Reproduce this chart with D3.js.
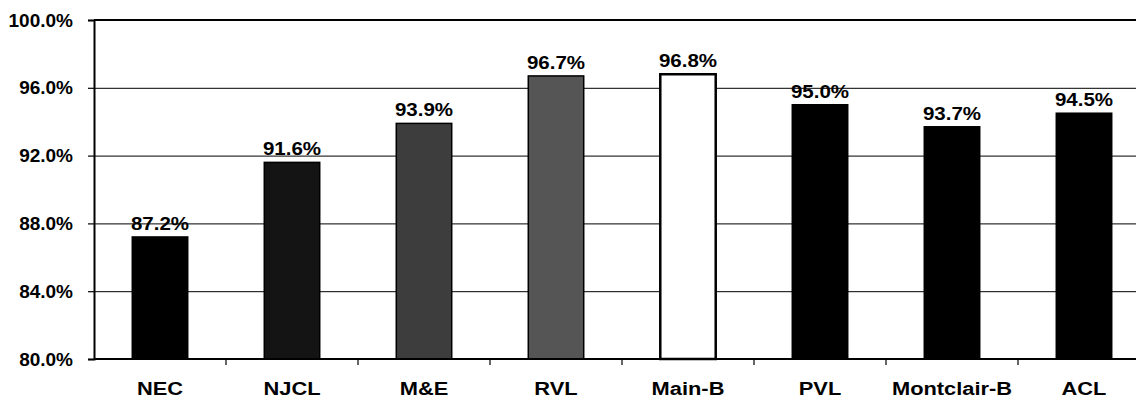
<!DOCTYPE html>
<html>
<head>
<meta charset="utf-8">
<script src="https://cdn.jsdelivr.net/npm/d3@7"></script>
<style>
  body { margin: 0; background: #fff; }
  text { font-family: Arial, "Liberation Sans", sans-serif; font-weight: bold; fill: #000; }
</style>
</head>
<body>
<div id="chart"></div>
<script>
// Data
const categories = ["NEC", "NJCL", "M&E", "RVL", "Main-B", "PVL", "Montclair-B", "ACL"];
const values = [87.2, 91.6, 93.9, 96.7, 96.8, 95.0, 93.7, 94.5];
const barFills = ["#000", "#141414", "#3d3d3d", "#555", "#fff", "#000", "#000", "#000"];
const yTicks = [80, 84, 88, 92, 96, 100];

const margin = { top: 20, right: -14, bottom: 41, left: 94 };
const W = 1136, H = 400;
const width = W - margin.left - margin.right;   // plot runs past the right edge
const height = H - margin.top - margin.bottom;

const svg = d3.select("#chart").append("svg")
  .attr("width", W)
  .attr("height", H)
  .append("g")
  .attr("transform", `translate(${margin.left},${margin.top})`);

const x = d3.scaleBand().domain(categories).range([0, width]).padding(0);
const y = d3.scaleLinear().domain([80, 100]).range([height, 0]);

// gridlines
svg.append("g")
  .call(d3.axisLeft(y).tickValues(yTicks).tickSize(-width).tickFormat(""))
  .call(g => g.select(".domain").remove())
  .selectAll("line").attr("stroke", "#000").attr("stroke-width", 1);

// left axis with labels
const yAxis = svg.append("g")
  .call(d3.axisLeft(y).tickValues(yTicks).tickSize(6).tickPadding(15)
    .tickFormat(d => d.toFixed(1) + "%"));
yAxis.select(".domain").attr("stroke-width", 2);
yAxis.selectAll("line").attr("stroke-width", 1.2);
yAxis.selectAll("text")
  .style("font-size", "19px");

// top border
svg.append("line")
  .attr("x1", 0).attr("x2", width)
  .attr("y1", y(100)).attr("y2", y(100))
  .attr("stroke", "#000").attr("stroke-width", 2);

// bars
const barW = x.bandwidth() * 0.42;
svg.selectAll("rect.bar")
  .data(categories)
  .enter()
  .append("rect")
  .attr("class", "bar")
  .attr("x", (d, i) => x(d) + (x.bandwidth() - barW) / 2)
  .attr("y", (d, i) => y(values[i]))
  .attr("width", barW)
  .attr("height", (d, i) => height - y(values[i]))
  .attr("fill", (d, i) => barFills[i])
  .attr("stroke", "#000")
  .attr("stroke-width", (d, i) => i === 4 ? 2.5 : 1.5);

// value labels
svg.selectAll("text.val")
  .data(categories)
  .enter()
  .append("g")
  .attr("transform", (d, i) => `translate(${x(d) + x.bandwidth() / 2},${y(values[i]) - 7})`)
  .append("text")
  .attr("class", "val")
  .attr("text-anchor", "middle")
  .attr("transform", "scale(1.08,1)")
  .style("font-size", "19px")
  .text((d, i) => values[i].toFixed(1) + "%");

// bottom axis line
svg.append("line")
  .attr("x1", 0).attr("x2", width)
  .attr("y1", height).attr("y2", height)
  .attr("stroke", "#000").attr("stroke-width", 2);

// category boundary ticks
svg.selectAll("line.btick")
  .data(categories.slice(1))
  .enter()
  .append("line")
  .attr("x1", d => x(d)).attr("x2", d => x(d))
  .attr("y1", height).attr("y2", height + 6)
  .attr("stroke", "#000").attr("stroke-width", 1.2);

// category labels
svg.selectAll("g.cat")
  .data(categories)
  .enter()
  .append("g")
  .attr("transform", d => `translate(${x(d) + x.bandwidth() / 2},${height + 36})`)
  .append("text")
  .attr("text-anchor", "middle")
  .attr("transform", "scale(1.15,1)")
  .style("font-size", "19px")
  .text(d => d);
</script>
</body>
</html>
